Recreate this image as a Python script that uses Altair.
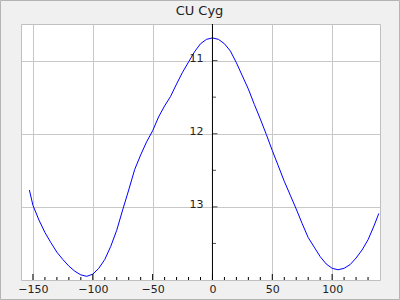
import altair as alt
import pandas as pd

# Light curve of CU Cyg (phase in degrees vs. magnitude)
phase = [-153, -150, -145, -140, -135, -130, -125, -120, -115, -110, -105, -100,
         -95, -90, -85, -80, -75, -70, -65, -60, -55, -50, -45, -40, -35, -30,
         -25, -20, -15, -10, -5, 0, 5, 10, 15, 20, 25, 30, 35, 40, 45, 50, 55,
         60, 65, 70, 75, 80, 85, 90, 95, 100, 105, 110, 115, 120, 125, 130, 135, 139]
mag = [12.77, 12.98, 13.18, 13.35, 13.49, 13.62, 13.72, 13.81, 13.88, 13.93, 13.95, 13.92,
       13.84, 13.72, 13.54, 13.32, 13.04, 12.77, 12.49, 12.29, 12.11, 11.96, 11.77, 11.62, 11.49, 11.32,
       11.16, 11.02, 10.88, 10.77, 10.71, 10.69, 10.71, 10.77, 10.87, 11.03, 11.21, 11.39, 11.60, 11.80, 12.01, 12.23, 12.44,
       12.65, 12.84, 13.03, 13.23, 13.42, 13.55, 13.68, 13.78, 13.84, 13.86, 13.84, 13.79, 13.70, 13.59, 13.45, 13.26, 13.09]

title_text = "CU Cyg"
x_major = [-150, -100, -50, 0, 50, 100]
x_minor = [-140, -130, -120, -110, -90, -80, -70, -60, -40, -30, -20, -10,
           10, 20, 30, 40, 60, 70, 80, 90, 110, 120, 130]
y_major = [11, 12, 13]
y_labels = ["11", "12", "13"]
y_minor = [11.5, 12.5, 13.5]

W, H = 359, 256
FONT = "DejaVu Sans"

xs = alt.Scale(domain=[-160, 140], nice=False, zero=False)
ys = alt.Scale(domain=[10.5, 14.0], reverse=True, nice=False, zero=False)

x_axis = alt.Axis(values=x_major, grid=True, ticks=False, domain=False, title=None,
                  labelPadding=3, labelFontSize=11, labelFont=FONT,
                  labelColor="#222222", gridColor="#c8c8c8",
                  labelOverlap=False, labelFlush=False)
y_axis = alt.Axis(values=y_major, grid=True, ticks=False, domain=False, title=None,
                  labels=False, gridColor="#c8c8c8")

curve = pd.DataFrame({"phase": phase, "mag": mag})

line = alt.Chart(curve).mark_line(color="#0000ff", strokeWidth=1, clip=True).encode(
    x=alt.X("phase:Q", scale=xs, axis=x_axis),
    y=alt.Y("mag:Q", scale=ys, axis=y_axis),
)

zero_df = pd.DataFrame({"v": [0]})
yaxis_line = alt.Chart(zero_df).mark_rule(color="black", strokeWidth=1).encode(
    x=alt.X("v:Q", scale=xs, axis=x_axis)
)

ymaj_df = pd.DataFrame({"val": y_major, "label": y_labels})
ymin_df = pd.DataFrame({"val": y_minor})
xmaj_df = pd.DataFrame({"val": x_major})
xmin_df = pd.DataFrame({"val": x_minor})

ymaj_ticks = alt.Chart(ymaj_df).mark_tick(orient="horizontal", size=5, thickness=1,
                                          xOffset=2.5, color="black").encode(
    x=alt.datum(0, scale=xs, axis=x_axis), y=alt.Y("val:Q", scale=ys, axis=y_axis)
)
ymin_ticks = alt.Chart(ymin_df).mark_tick(orient="horizontal", size=3.5, thickness=1,
                                          xOffset=1.75, color="black").encode(
    x=alt.datum(0, scale=xs, axis=x_axis), y=alt.Y("val:Q", scale=ys, axis=y_axis)
)
ylabels = alt.Chart(ymaj_df).mark_text(align="right", baseline="middle", dx=-9, dy=-1.5,
                                       fontSize=11, font=FONT, color="#222222").encode(
    x=alt.datum(0, scale=xs, axis=x_axis), y=alt.Y("val:Q", scale=ys, axis=y_axis),
    text="label:N"
)
xmaj_ticks = alt.Chart(xmaj_df).mark_rule(color="black", strokeWidth=1).encode(
    x=alt.X("val:Q", scale=xs, axis=x_axis), y=alt.value(H), y2=alt.value(H - 6)
)
xmin_ticks = alt.Chart(xmin_df).mark_rule(color="black", strokeWidth=1).encode(
    x=alt.X("val:Q", scale=xs, axis=x_axis), y=alt.value(H), y2=alt.value(H - 3)
)

frame = alt.Chart(zero_df).mark_rect(fillOpacity=0, stroke="#b4b4b4", strokeWidth=1,
                                     clip=False).encode(
    x=alt.value(-20.5), x2=alt.value(378.5), y=alt.value(-23.5), y2=alt.value(275.5)
)

title = alt.Chart(zero_df).mark_text(text=title_text, font=FONT, fontSize=13,
                                     color="#222222", align="center",
                                     baseline="alphabetic", clip=False).encode(
    x=alt.value(178.5), y=alt.value(-9)
)

chart = alt.layer(
    line, yaxis_line, ymaj_ticks, ymin_ticks, ylabels, xmaj_ticks, xmin_ticks, frame, title
).properties(
    width=W, height=H,
    autosize=alt.AutoSizeParams(type="none"),
    padding={"left": 21, "top": 24, "right": 20, "bottom": 20},
    background="#f0f0f0",
).configure_view(stroke="#c0c0c0", fill="white")

chart.save("out.html", embed_options={"renderer": "svg", "actions": False})
